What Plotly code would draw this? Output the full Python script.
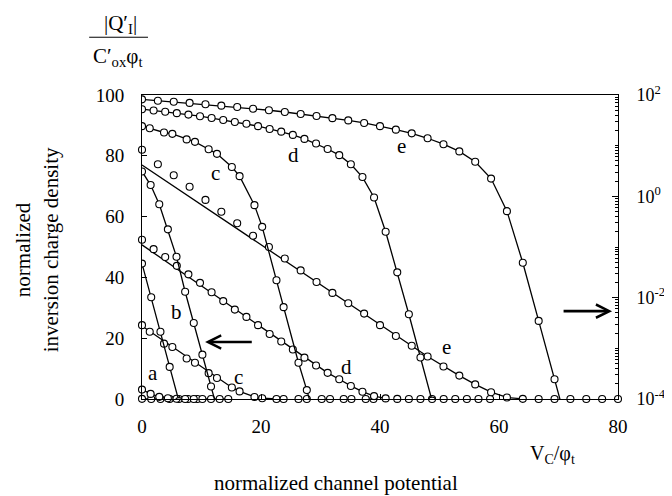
import plotly.graph_objects as go

# ---- data: normalized inversion charge |Q'I|/(C'ox*phi_t) vs V_C/phi_t ----
A_X = [0, 1.55, 3.1, 4.65, 6.2, 7.75, 9.3]
A_Q = [0.047, 0.0102, 0.00212, 4.3e-4, 9.1e-5, 2.0e-5, 4.3e-6]

B_X = [0, 1.45, 2.9, 4.35, 5.8, 7.25, 8.7, 10.15, 11.6, 13.05, 14.5]
B_Q = [3.1, 1.67, 0.70, 0.223, 0.064, 0.0131, 0.00316, 7.5e-4, 1.76e-4, 4.2e-5, 1.0e-5]

C_X = [0, 1.3, 3.7, 5.1, 7.5, 8.9, 11.2, 12.6, 15.1, 16.4, 18.9, 20.2, 22.6, 23.8,
       26.3, 27.7, 30.2, 31.6, 33.9, 35.2, 37.6, 38.9]
C_Q = [24.3, 22.1, 18.2, 17.1, 13.3, 11.9, 8.5, 6.9, 3.8, 2.5, 0.67, 0.25, 0.022, 0.0065,
       5.2e-4, 1.5e-4, 1.5e-5, 4.5e-6, 4.5e-7, 1.2e-7, 1.1e-8, 3.0e-9]

D_X = [0, 1.95, 3.9, 5.85, 7.8, 9.75, 11.7, 13.65, 15.6, 17.55, 19.5, 21.45, 23.4, 25.35,
       27.3, 29.25, 31.2, 33.15, 35.1, 37.05, 39.0, 40.95, 42.9, 44.85, 46.8, 48.75, 50.7,
       52.65, 54.6, 56.55, 58.5]
D_Q = [52.4, 49.3, 46.7, 43.8, 41.0, 38.2, 35.1, 32.2, 29.4, 27.0, 24.3, 21.4, 18.9, 16.3,
       13.6, 11.0, 8.6, 6.5, 4.3, 2.4, 0.95, 0.20, 0.0316, 0.0047, 6.6e-4, 9.3e-5, 1.3e-5,
       1.8e-6, 2.5e-7, 3.5e-8, 5e-9]

E_X = [0, 2.667, 5.333, 8, 10.667, 13.333, 16, 18.667, 21.333, 24, 26.667, 29.333, 32,
       34.667, 37.333, 40, 42.667, 45.333, 48, 50.667, 53.333, 56, 58.667, 61.333, 64,
       66.667, 69.333, 72, 74.667, 77.333, 80]
E_Q = [82.0, 77.2, 73.6, 69.8, 65.5, 61.6, 57.8, 53.7, 50.0, 46.2, 42.3, 38.5, 34.9, 31.5,
       28.1, 24.3, 20.7, 17.5, 14.0, 10.7, 7.7, 4.8, 2.24, 0.51, 0.0488, 0.00348, 2.45e-4,
       1.7e-5, 1.2e-6, 8.6e-8, 6e-9]

# approximate (solid) lines on the linear scale
LC_X = [0, 15.1, 16.4, 18.9, 20.2, 22.6]
LC_Q = [24.0, 3.8, 2.5, 0.67, 0.25, 0.02]
LD_X = [0, 31.2, 33.15, 35.1, 37.05, 39.0, 40.95]
LD_Q = [50.7, 8.6, 6.5, 4.3, 2.4, 0.95, 0.2]
LE_X = [0, 48, 53.333, 56, 58.667, 61.333, 64]
LE_Q = [77.0, 14.0, 7.7, 4.8, 2.24, 0.51, 0.05]

X_TICKS = [0, 20, 40, 60, 80]
Y_TICKS = [0, 20, 40, 60, 80, 100]
LOG_TICKS = [1e-4, 1e-2, 1, 1e2]
LOG_TICK_TEXT = ["10<sup>-4</sup>", "10<sup>-2</sup>", "10<sup>0</sup>", "10<sup>2</sup>"]

CURVES = [("a", A_X, A_Q), ("b", B_X, B_Q), ("c", C_X, C_Q), ("d", D_X, D_Q), ("e", E_X, E_Q)]
LIN_LINES = [(LC_X, LC_Q), (LD_X, LD_Q), (LE_X, LE_Q)]

FONT = "Liberation Serif, Times New Roman, serif"
LINE = dict(color="black", width=1.3)
MARK = dict(symbol="circle", size=7, color="white", line=dict(color="black", width=1.1))

fig = go.Figure()

# lines first
for lx, lq in LIN_LINES:
    fig.add_trace(go.Scatter(x=lx, y=lq, mode="lines", line=LINE, yaxis="y",
                             showlegend=False, hoverinfo="skip"))
for name, cx, cq in CURVES[:2]:
    fig.add_trace(go.Scatter(x=cx, y=cq, mode="lines", line=LINE, yaxis="y",
                             showlegend=False, hoverinfo="skip"))
for name, cx, cq in CURVES:
    fig.add_trace(go.Scatter(x=cx, y=cq, mode="lines", line=LINE, yaxis="y2",
                             showlegend=False, hoverinfo="skip"))
# markers
for name, cx, cq in CURVES:
    fig.add_trace(go.Scatter(x=cx, y=cq, mode="markers", marker=MARK, yaxis="y",
                             cliponaxis=False, showlegend=False, name=name + " linear"))
for name, cx, cq in CURVES:
    fig.add_trace(go.Scatter(x=cx, y=cq, mode="markers", marker=MARK, yaxis="y2",
                             cliponaxis=True, showlegend=False, name=name + " log"))

# the page body adds an 8 px offset, margins compensate for it
tickfont = dict(family=FONT, size=19, color="black")
fig.update_layout(
    width=672, height=496,
    margin=dict(l=134, r=62, t=87, b=105, autoexpand=False),
    paper_bgcolor="white", plot_bgcolor="white",
    font=dict(family=FONT, color="black"),
    xaxis=dict(range=[0, 80], tickvals=X_TICKS, ticks="inside", ticklen=5, tickcolor="black",
               showline=True, linecolor="black", linewidth=1, mirror=True, automargin=False,
               showgrid=False, zeroline=False, tickfont=tickfont, ticklabelstandoff=10),
    yaxis=dict(range=[0, 100], tickvals=Y_TICKS, ticks="inside", ticklen=5, tickcolor="black",
               showline=True, linecolor="black", linewidth=1, automargin=False,
               showgrid=False, zeroline=False, tickfont=tickfont, ticklabelstandoff=13),
    yaxis2=dict(type="log", range=[-4, 2], tickvals=LOG_TICKS, ticktext=LOG_TICK_TEXT,
                overlaying="y", side="right", anchor="x", automargin=False,
                ticks="inside", ticklen=6, tickcolor="black",
                minor=dict(ticks="inside", ticklen=3, dtick="D1", tickcolor="black"),
                showline=True, linecolor="black", linewidth=1,
                showgrid=False, zeroline=False,
                tickfont=dict(family=FONT, size=18, color="black"), ticklabelstandoff=14),
)

C = dict(xanchor="center", yanchor="middle", showarrow=False)
lab = dict(family=FONT, size=21, color="black")
ann = []
for t, x, y in [("a", 1.9, 8.7), ("b", 5.8, 28.7), ("c", 16.2, 7.3), ("c", 12.3, 74.2),
                ("d", 25.4, 80.3), ("e", 43.6, 83.2), ("d", 34.4, 10.6), ("e", 51.2, 17.2)]:
    ann.append(dict(text=t, x=x, y=y, xref="x", yref="y", font=lab, **C))
# arrows
ann.append(dict(text="", x=10.6, y=18.75, ax=18.7, ay=18.75, xref="x", yref="y",
                axref="x", ayref="y", showarrow=True, arrowhead=5, arrowwidth=2.6,
                arrowsize=1, arrowcolor="black"))
ann.append(dict(text="", x=79.0, y=28.9, ax=70.6, ay=28.9, xref="x", yref="y",
                axref="x", ayref="y", showarrow=True, arrowhead=5, arrowwidth=2.6,
                arrowsize=1, arrowcolor="black"))
# titles
big = dict(family=FONT, size=21, color="black")
ann.append(dict(text="|Q′<sub>I</sub>|", x=-0.046, y=1.235, xref="paper", yref="paper",
                font=dict(family=FONT, size=21, color="black"), **C))
ann.append(dict(text="C′<sub>ox</sub>φ<sub>t</sub>", x=-0.05, y=1.125, xref="paper",
                yref="paper", font=dict(family=FONT, size=21, color="black"), **C))
ann.append(dict(text="V<sub>C</sub>/φ<sub>t</sub>", x=0.8634, y=-0.184, xref="paper",
                yref="paper", font=dict(family=FONT, size=20, color="black"), **C))
ann.append(dict(text="normalized channel potential", x=0.4076, y=-0.276, xref="paper",
                yref="paper", font=big, **C))
ann.append(dict(text="normalized<br>inversion charge density", x=-0.222, y=0.49,
                xref="paper", yref="paper", textangle=-90, font=big, **C))
fig.update_layout(annotations=ann)
fig.add_shape(type="line", xref="paper", yref="paper", x0=-0.111, x1=0.0126,
              y0=1.19, y1=1.19, line=dict(color="black", width=1))

fig.write_html("out.html")
